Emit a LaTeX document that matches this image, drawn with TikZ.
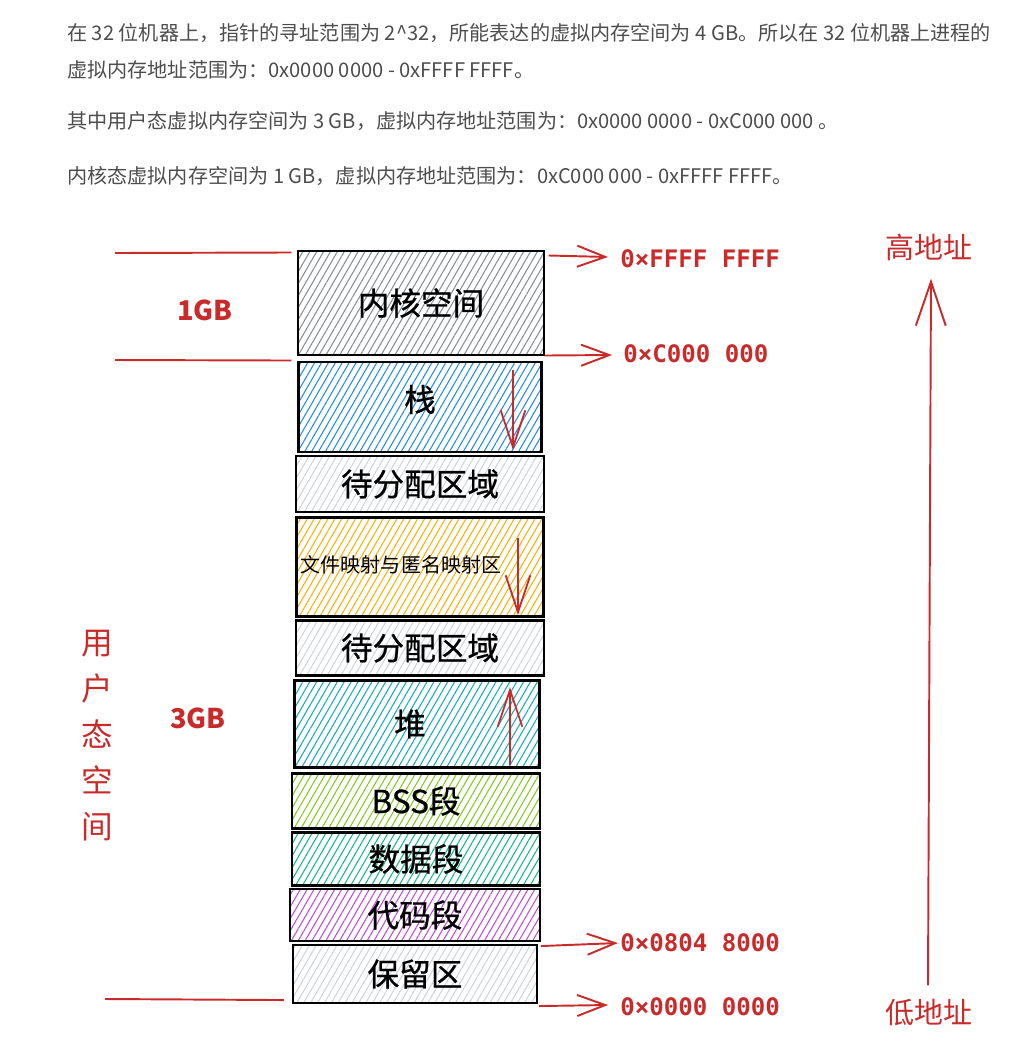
\documentclass[tikz,border=0pt]{standalone}
\usepackage{fontspec}
\setmainfont{Noto Sans CJK SC}
\newfontfamily\labfont[FakeBold=0.7]{Noto Sans CJK SC}
\newfontfamily\hexfont{DejaVu Sans Mono}
\usetikzlibrary{arrows.meta,patterns.meta,calc}
\definecolor{xred}{HTML}{C92A2A}
\definecolor{txtgray}{HTML}{4D4D4D}
\definecolor{hgray}{HTML}{868E96}
\definecolor{hlight}{HTML}{CED4DA}
\definecolor{hblue}{HTML}{228BE6}
\definecolor{hyellow}{HTML}{FAB005}
\definecolor{hcyan}{HTML}{15AABF}
\definecolor{hlime}{HTML}{82C91E}
\definecolor{hteal}{HTML}{12B886}
\definecolor{hgrape}{HTML}{BE4BDB}
\begin{document}
\begin{tikzpicture}[x=0.02cm,y=-0.02cm,
    seg/.style={draw=black,line width=1.2pt,inner sep=0pt,
      pattern={Lines[angle=60,distance=3.4pt,line width=0.6pt]},
      font=\labfont\fontsize{18}{18}\selectfont},
    para/.style={anchor=west,inner sep=0pt,text=txtgray,font=\fontsize{11.45}{12}\selectfont},
    hex/.style={anchor=west,inner sep=0pt,text=xred,font=\hexfont\bfseries\fontsize{13.7}{14}\selectfont},
    redline/.style={draw=xred,line width=1.1pt},
    growarrow/.style={draw=xred,line width=1pt,-{Straight Barb[length=21pt,width=14pt,line width=1pt]}},
    addrarrow/.style={draw=xred,line width=1.1pt,-{Straight Barb[length=16pt,width=12pt,line width=1.1pt]}}]
            \useasboundingbox (0,0) rectangle (1017,1063);

            \node[para] (p1) at (67,33) {在 32 位机器上，指针的寻址范围为 2\^{}32，所能表达的虚拟内存空间为 4 GB。所以在 32 位机器上进程的};
            \node[para] (p2) at (67,70) {虚拟内存地址范围为：0x0000 0000 - 0xFFFF FFFF。};
            \node[para] (p3) at (67,121) {其中用户态虚拟内存空间为 3 GB，虚拟内存地址范围为：0x0000 0000 - 0xC000 000 。};
            \node[para] (p4) at (67,176) {内核态虚拟内存空间为 1 GB，虚拟内存地址范围为：0xC000 000 - 0xFFFF FFFF。};

            \node[seg,pattern color=hgray,minimum width=4.92cm,minimum height=2.08cm] (kern) at (421,303) {内核空间};
            \node[seg,pattern color=hblue,minimum width=4.86cm,minimum height=1.8cm] (stack) at (420,407) {\raisebox{10pt}{栈}};
            \node[seg,pattern color=hlight,minimum width=4.96cm,minimum height=1.12cm] (free1) at (420,484) {待分配区域};
            \node[seg,pattern color=hyellow,minimum width=4.94cm,minimum height=1.98cm] (mmap) at (420,567) {};
            \node[seg,pattern color=hlight,minimum width=4.96cm,minimum height=1.1cm] (free2) at (420,648) {待分配区域};
            \node[seg,pattern color=hcyan,minimum width=4.9cm,minimum height=1.74cm] (heap) at (417,724) {\hspace*{-8pt}堆};
            \node[seg,pattern color=hlime,minimum width=4.96cm,minimum height=1.1cm] (bss) at (416,801) {BSS段};
            \node[seg,pattern color=hteal,minimum width=4.96cm,minimum height=1.06cm] (data) at (416,859) {数据段};
            \node[seg,pattern color=hgrape,minimum width=5cm,minimum height=1.04cm] (code) at (415,915) {代码段};
            \node[seg,pattern color=hlight,minimum width=4.88cm,minimum height=1.16cm] (rsv) at (415,974) {保留区};
            \node[inner sep=0pt,font=\fontsize{11.4}{12}\selectfont] (mmaptxt) at (401,565) {文件映射与匿名映射区};

            % growth directions
            \coordinate (stacktop) at (513,370);
            \coordinate (stackend) at (513,450);
            \coordinate (mmaptop) at (518,538);
            \coordinate (mmapend) at (518,615);
            \coordinate (heapbot) at (510,765);
            \coordinate (heapend) at (510,687);
            \draw[growarrow] (stacktop) -- (stackend);
            \draw[growarrow] (mmaptop) -- (mmapend);
            \draw[growarrow] (heapbot) -- (heapend);

            % kernel / user split
            \coordinate (kl1) at (115,253);
            \coordinate (kl2) at (115,360);
            \coordinate (ul1) at (105,999);
            \draw[redline] (kl1) -- ($(kern.north west)+(-6,2)$);
            \draw[redline] (kl2) -- ($(kern.south west)+(-6,5)$);
            \draw[redline] (ul1) -- ($(rsv.south west)+(-8,-4)$);

            \node[inner sep=0pt,text=xred,font=\bfseries\fontsize{15.5}{16}\selectfont] (gb1) at (205,310) {1GB};
            \node[inner sep=0pt,text=xred,font=\bfseries\fontsize{15.5}{16}\selectfont] (gb3) at (198,718) {3GB};
            \node[inner sep=0pt,text=xred,align=center,font=\fontsize{18}{26.2}\selectfont] (user) at (97,736) {用\\户\\态\\空\\间};

            \node[hex] (aFFFF) at (620,259) {0×FFFF FFFF};
            \node[hex] (aC000) at (623,354) {0×C000 000};
            \node[hex] (a0804) at (620,943) {0×0804 8000};
            \node[hex] (a0000) at (620,1007) {0×0000 0000};
            \draw[addrarrow] ($(kern.north east)+(4,5)$) -- ($(aFFFF.west)+(-12,-2)$);
            \draw[addrarrow] ($(kern.south east)+(0,0)$) -- ($(aC000.west)+(-11,1)$);
            \draw[addrarrow] ($(code.south east)+(0,4)$) -- ($(a0804.west)+(-2,0)$);
            \draw[addrarrow] ($(rsv.south east)+(1,2)$) -- ($(a0000.west)+(-12,-2)$);

            \node[inner sep=0pt,text=xred,font=\fontsize{16.5}{16}\selectfont] (high) at (929,247) {高地址};
            \node[inner sep=0pt,text=xred,font=\fontsize{16.5}{16}\selectfont] (low) at (929,1013) {低地址};
            \draw[draw=xred,line width=1.1pt,-{Straight Barb[length=25pt,width=17pt,line width=1.1pt]}]
                ($(low.north)+(-1,-14)$) -- ($(high.south)+(2,18)$);
        \end{tikzpicture}
\end{document}
